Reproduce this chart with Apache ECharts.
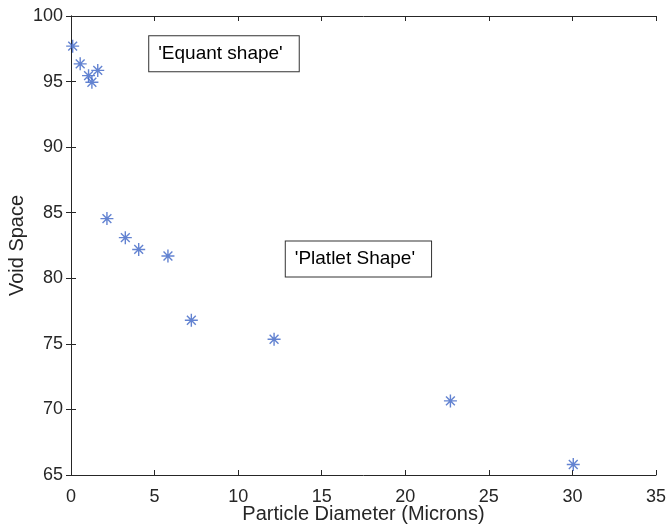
<!DOCTYPE html>
<html>
<head>
<meta charset="utf-8">
<script src="https://cdn.jsdelivr.net/npm/echarts@6/dist/echarts.min.js"></script>
<style>html,body{margin:0;padding:0;background:#fff}#c{width:667px;height:532px}</style>
</head>
<body>
<div id="c"></div>
<script>
const particleDiameter = [0.1, 0.55, 1.05, 1.25, 1.6, 2.15, 3.25, 4.05, 5.8, 7.2, 12.15, 22.7, 30.05];
const voidSpace = [97.7, 96.35, 95.45, 94.95, 95.85, 84.55, 83.1, 82.2, 81.7, 76.8, 75.35, 70.65, 65.8];
const xTicks = [0, 5, 10, 15, 20, 25, 30, 35];
const yTicks = [65, 70, 75, 80, 85, 90, 95, 100];
const annotations = [
  {text: "'Equant shape'", x: 4.68, y: 98.45},
  {text: "'Platlet Shape'", x: 12.85, y: 82.8}
];

const ink = '#262626';
const font = '"Liberation Sans", Arial, Helvetica, sans-serif';
const chart = echarts.init(document.getElementById('c'), null, {renderer: 'canvas'});
const star = 'path://M5,0L5,10M0,5L10,5M1.6,1.6L8.4,8.4M8.4,1.6L1.6,8.4';

const axisCommon = {
  axisLine: {show: true, lineStyle: {color: ink, width: 1}},
  axisTick: {show: true, inside: true, length: 5, lineStyle: {color: ink, width: 1}},
  splitLine: {show: false}
};

chart.setOption({
  animation: false,
  backgroundColor: '#fff',
  grid: {left: 71, right: 11, top: 16, bottom: 57, containLabel: false, outerBoundsMode: 'none'},
  xAxis: [
    Object.assign({
      type: 'value', min: xTicks[0], max: xTicks[xTicks.length - 1], interval: 5, position: 'bottom',
      name: 'Particle Diameter (Microns)', nameLocation: 'middle', nameGap: 29, nameMoveOverlap: false,
      nameTextStyle: {color: ink, fontSize: 20, fontFamily: font},
      axisLabel: {color: ink, fontSize: 18, fontFamily: font, margin: 13}
    }, axisCommon),
    Object.assign({
      type: 'value', min: xTicks[0], max: xTicks[xTicks.length - 1], interval: 5, position: 'top',
      axisLabel: {show: false}
    }, axisCommon)
  ],
  yAxis: [
    Object.assign({
      type: 'value', min: yTicks[0], max: yTicks[yTicks.length - 1], interval: 5, position: 'left',
      name: 'Void Space', nameLocation: 'middle', nameGap: 44, nameMoveOverlap: false,
      nameTextStyle: {color: ink, fontSize: 20, fontFamily: font},
      axisLabel: {color: ink, fontSize: 18, fontFamily: font, margin: 8}
    }, axisCommon),
    Object.assign({
      type: 'value', min: yTicks[0], max: yTicks[yTicks.length - 1], interval: 5, position: 'right',
      axisLabel: {show: false}
    }, axisCommon)
  ],
  series: [{
    type: 'scatter',
    xAxisIndex: 0, yAxisIndex: 0,
    data: particleDiameter.map((x, i) => [x, voidSpace[i]]),
    symbol: star,
    symbolSize: 13,
    itemStyle: {color: 'rgba(0,0,0,0)', borderColor: '#3c64c6', borderWidth: 1.4},
    emphasis: {disabled: true}
  }]
});

function drawAnnotations() {
  const g = annotations.map(a => {
    const p = chart.convertToPixel({xAxisIndex: 0, yAxisIndex: 0}, [a.x, a.y]);
    return {
      type: 'text',
      x: p[0], y: p[1],
      style: {
        text: a.text, fill: '#000', fontSize: 19, fontFamily: font,
        backgroundColor: '#fff', borderColor: '#333', borderWidth: 1,
        padding: [8, 16, 8, 9], verticalAlign: 'top', align: 'left'
      },
      z: 10
    };
  });
  chart.setOption({graphic: g});
}
drawAnnotations();
</script>
</body>
</html>
